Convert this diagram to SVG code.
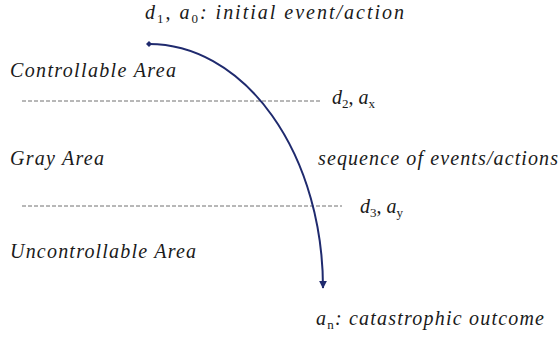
<svg xmlns="http://www.w3.org/2000/svg" width="560" height="339" viewBox="0 0 560 339">
<style>
.t{font-size:20px;font-style:italic;fill:#1a1a1a}
.sub{font-size:13px;font-style:normal}
.up{font-style:normal}
.dash{stroke:#707070;stroke-width:1;stroke-dasharray:4 2;fill:none}
.flow{stroke:#1f2a6e;stroke-width:2;fill:none}
</style>
<defs>
<marker id="ah" viewBox="0 0 10 10" refX="9" refY="5" markerWidth="8" markerHeight="8" markerUnits="userSpaceOnUse" orient="auto">
<path d="M0,0 L10,5 L0,10 z" fill="#1f2a6e"/>
</marker>
</defs>
<g id="levels">
<line class="dash" x1="22" y1="101" x2="320" y2="101"/>
<line class="dash" x1="22" y1="206" x2="342" y2="206"/>
</g>
<g id="connectors">
<path class="flow" d="M149,44 A174,244 0 0 1 323,288" marker-end="url(#ah)"/>
<path d="M146,44 L149,41 L152,44 L149,47 z" fill="#1f2a6e"/>
</g>
<g font-family="Liberation Serif, Times New Roman, DejaVu Serif, serif">
<g id="start">
<text class="t" x="145" y="19" textLength="259">d<tspan class="sub" dy="4">1</tspan><tspan class="up" dy="-4">, </tspan>a<tspan class="sub" dy="4">0</tspan><tspan dy="-4">: initial event/action</tspan></text>
</g>
<g id="controllable"><text class="t" x="10" y="77" textLength="166">Controllable Area</text></g>
<g id="d2"><text class="t" x="332" y="104">d<tspan class="sub" dy="4">2</tspan><tspan class="up" dy="-4">, </tspan>a<tspan class="sub" dy="4">x</tspan></text></g>
<g id="gray"><text class="t" x="10" y="165" textLength="94">Gray Area</text></g>
<g id="sequence"><text class="t" x="318" y="165" textLength="240">sequence of events/actions</text></g>
<g id="d3"><text class="t" x="360" y="213">d<tspan class="sub" dy="4">3</tspan><tspan class="up" dy="-4">, </tspan>a<tspan class="sub" dy="4">y</tspan></text></g>
<g id="uncontrollable"><text class="t" x="10" y="258" textLength="186">Uncontrollable Area</text></g>
<g id="outcome"><text class="t" x="316" y="325" textLength="228">a<tspan class="sub" dy="4">n</tspan><tspan dy="-4">: catastrophic outcome</tspan></text></g>
</g>
</svg>
